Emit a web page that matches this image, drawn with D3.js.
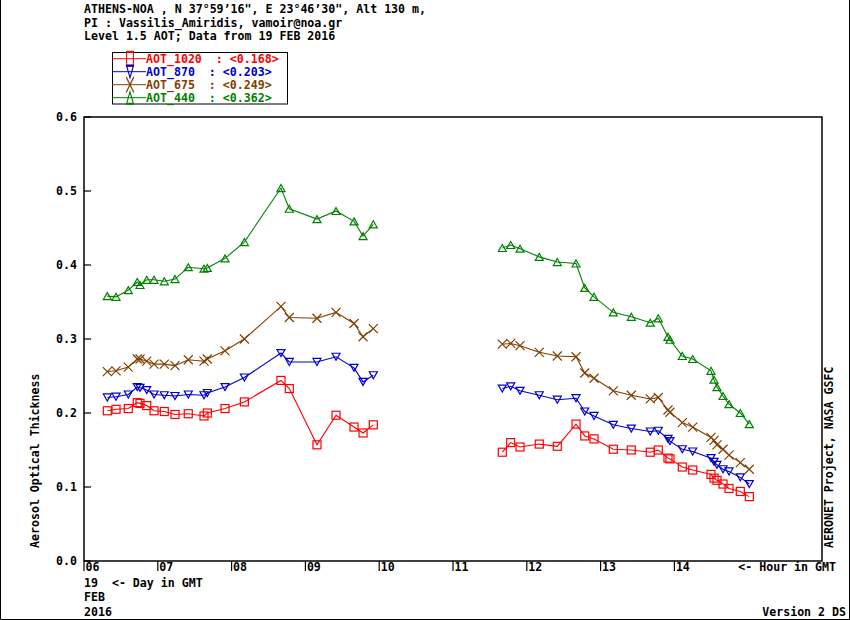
<!DOCTYPE html>
<html>
<head>
<meta charset="utf-8">
<script src="https://cdn.jsdelivr.net/npm/d3@7"></script>
<style>
  body { margin: 0; background: #fff; }
  svg { display: block; }
  text { font-family: "DejaVu Sans Mono", monospace; font-weight: bold; font-size: 11.6px; }
</style>
</head>
<body>
<div class="wrapper"></div>
<script>
// measurement times, hour GMT, 19 FEB 2016
var hours = [
  6.316, 6.434, 6.600, 6.722, 6.759, 6.850, 6.949, 7.088, 7.233, 7.413, 7.626,
  7.671, 7.911, 8.173, 8.669, 8.782, 9.157, 9.415, 9.659, 9.781, 9.920,
  11.668, 11.782, 11.908, 12.169, 12.413, 12.667, 12.785, 12.911, 13.172, 13.416,
  13.673, 13.782, 13.913, 13.940, 14.107, 14.248, 14.496, 14.537, 14.577, 14.659,
  14.740, 14.893, 15.015
];

var aot1020 = [
  0.203, 0.205, 0.206, 0.214, 0.213, 0.210, 0.203, 0.202, 0.198, 0.199, 0.196,
  0.200, 0.206, 0.215, 0.244, 0.233, 0.157, 0.197, 0.181, 0.173, 0.184,
  0.147, 0.160, 0.154, 0.158, 0.155, 0.185, 0.169, 0.165, 0.151, 0.150,
  0.147, 0.150, 0.139, 0.138, 0.127, 0.123, 0.117, 0.112, 0.109, 0.104,
  0.098, 0.094, 0.087
];

var aot870 = [
  0.221, 0.222, 0.225, 0.235, 0.234, 0.231, 0.225, 0.224, 0.223, 0.225, 0.224,
  0.227, 0.235, 0.248, 0.281, 0.269, 0.269, 0.276, 0.261, 0.242, 0.251,
  0.233, 0.236, 0.230, 0.224, 0.218, 0.220, 0.202, 0.196, 0.184, 0.179,
  0.175, 0.176, 0.165, 0.162, 0.151, 0.148, 0.139, 0.134, 0.130, 0.124,
  0.121, 0.113, 0.104
];

var aot675 = [
  0.256, 0.257, 0.262, 0.273, 0.273, 0.270, 0.266, 0.266, 0.264, 0.272, 0.270,
  0.273, 0.284, 0.300, 0.344, 0.329, 0.328, 0.336, 0.321, 0.303, 0.314,
  0.293, 0.294, 0.291, 0.282, 0.277, 0.276, 0.254, 0.247, 0.230, 0.224,
  0.219, 0.221, 0.204, 0.201, 0.187, 0.181, 0.167, 0.163, 0.157, 0.151,
  0.143, 0.133, 0.124
];

var aot440 = [
  0.358, 0.357, 0.366, 0.377, 0.373, 0.380, 0.380, 0.378, 0.381, 0.397, 0.395,
  0.396, 0.409, 0.431, 0.504, 0.476, 0.462, 0.473, 0.459, 0.439, 0.455,
  0.423, 0.427, 0.422, 0.411, 0.404, 0.402, 0.369, 0.357, 0.336, 0.330,
  0.322, 0.328, 0.303, 0.299, 0.277, 0.273, 0.257, 0.245, 0.235, 0.223,
  0.212, 0.200, 0.185
];

var seriesNames = ["AOT_1020", "AOT_870", "AOT_675", "AOT_440"];
var seriesMeans = ["0.168", "0.203", "0.249", "0.362"];
var seriesColors = ["#ff0000", "#0000cc", "#804000", "#008000"];
var seriesMarks = ["square", "tridown", "cross", "triup"];

var hourTicks = [6, 7, 8, 9, 10, 11, 12, 13, 14];
var aotTicks = [0, 0.1, 0.2, 0.3, 0.4, 0.5, 0.6];

var headerLines = [
  "ATHENS-NOA , N 37\u00b059\u201916\", E 23\u00b046\u201930\", Alt 130 m,",
  "PI : Vassilis_Amiridis, vamoir@noa.gr",
  "Level 1.5 AOT; Data from 19 FEB 2016"
];

var W = 850, H = 620;
var x = d3.scaleLinear().domain([6, 16]).range([84, 822]);
var y = d3.scaleLinear().domain([0, 0.6]).range([561, 117]);

var svg = d3.select(".wrapper").append("svg").attr("width", W).attr("height", H);

// outer frame (no top edge)
svg.append("path")
  .attr("d", "M0.5,0 V619.5 H849.5 V0")
  .attr("fill", "none").attr("stroke", "#000");

svg.selectAll("text.head").data(headerLines).enter().append("text")
  .attr("class", "head")
  .attr("x", 84)
  .attr("y", function (d, i) { return 13 + i * 13.5; })
  .attr("xml:space", "preserve")
  .text(function (d) { return d; });

function marker (g, kind, color) {
  if (kind === "square") {
    g.append("rect").attr("x", -4).attr("y", -4).attr("width", 8).attr("height", 8);
  } else if (kind === "tridown") {
    g.append("path").attr("d", "M-4,-3.5 L4,-3.5 L0,3.5 Z");
  } else if (kind === "triup") {
    g.append("path").attr("d", "M0,-3.5 L4,3.5 L-4,3.5 Z");
  } else {
    g.append("path").attr("d", "M-4.5,-4.5 L4.5,4.5 M-4.5,4.5 L4.5,-4.5");
  }
  g.selectAll("*").attr("fill", "none").attr("stroke", color).attr("stroke-width", 1.2);
}

// legend
var legend = svg.append("g");
legend.append("rect")
  .attr("x", 112.5).attr("y", 52.5).attr("width", 175).attr("height", 51.5)
  .attr("fill", "none").attr("stroke", "#000");

seriesNames.forEach(function (name, i) {
  var ly = 58.7 + i * 13;
  var c = seriesColors[i];
  legend.append("line")
    .attr("x1", 112).attr("x2", 146).attr("y1", ly).attr("y2", ly)
    .attr("stroke", c);
  marker(legend.append("g").attr("transform", "translate(130," + ly + ") scale(0.85,1.7)"), seriesMarks[i], c);
  legend.append("text")
    .attr("x", 146).attr("y", ly + 4)
    .attr("xml:space", "preserve")
    .attr("fill", c)
    .text(name + "  : <" + seriesMeans[i] + ">");
});

// plot box
svg.append("rect")
  .attr("x", x(6)).attr("y", y(0.6))
  .attr("width", x(16) - x(6)).attr("height", y(0) - y(0.6))
  .attr("fill", "none").attr("stroke", "#000").attr("stroke-width", 1.5);

svg.selectAll("line.ytick").data(aotTicks).enter().append("line")
  .attr("x1", x(6)).attr("x2", x(6) + 7)
  .attr("y1", function (d) { return y(d); }).attr("y2", function (d) { return y(d); })
  .attr("stroke", "#000").attr("stroke-width", 1.2);

svg.selectAll("text.ylab").data(aotTicks).enter().append("text")
  .attr("x", 77).attr("y", function (d) { return y(d) + 4; })
  .attr("text-anchor", "end")
  .text(function (d) { return d3.format(".1f")(d); });

svg.selectAll("line.xtick").data(hourTicks).enter().append("line")
  .attr("x1", function (d) { return x(d); }).attr("x2", function (d) { return x(d); })
  .attr("y1", y(0)).attr("y2", y(0) + 10)
  .attr("stroke", "#000").attr("stroke-width", 1.2);

svg.selectAll("text.xlab").data(hourTicks).enter().append("text")
  .attr("x", function (d) { return x(d) + 1.5; }).attr("y", 570.5)
  .attr("font-size", "11px")
  .text(function (d) { return d3.format("02d")(d); });

svg.append("text").attr("x", 836).attr("y", 570.5).attr("text-anchor", "end")
  .attr("xml:space", "preserve").text("<- Hour in GMT");
svg.append("text").attr("x", 84).attr("y", 587)
  .attr("xml:space", "preserve").text("19  <- Day in GMT");
svg.append("text").attr("x", 84).attr("y", 601).text("FEB");
svg.append("text").attr("x", 84).attr("y", 615.5).text("2016");
svg.append("text").attr("x", 846).attr("y", 615.5).attr("text-anchor", "end").text("Version 2 DS");

svg.append("text")
  .attr("transform", "translate(39,548) rotate(-90)")
  .text("Aerosol Optical Thickness");
svg.append("text")
  .attr("transform", "translate(833,548) rotate(-90)")
  .text("AERONET Project, NASA GSFC");

// series: break the line where there is a gap in the measurements
var allSeries = [aot1020, aot870, aot675, aot440];
var line = d3.line()
  .x(function (d) { return x(d[0]); })
  .y(function (d) { return y(d[1]); });

function segments (vals) {
  var out = [], cur = [];
  hours.forEach(function (h, i) {
    if (cur.length && h - cur[cur.length - 1][0] > 1) { out.push(cur); cur = []; }
    cur.push([h, vals[i]]);
  });
  out.push(cur);
  return out;
}

allSeries.forEach(function (vals, si) {
  var c = seriesColors[si];
  var g = svg.append("g");
  g.selectAll("path.seg").data(segments(vals)).enter().append("path")
    .attr("d", line)
    .attr("fill", "none").attr("stroke", c).attr("stroke-width", 1.1);
  hours.forEach(function (h, i) {
    marker(g.append("g").attr("transform", "translate(" + x(h) + "," + y(vals[i]) + ")"), seriesMarks[si], c);
  });
});
</script>
</body>
</html>
